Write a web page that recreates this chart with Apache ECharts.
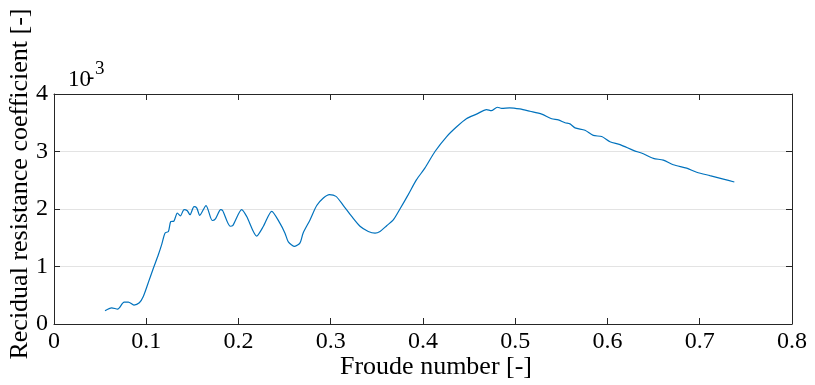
<!DOCTYPE html>
<html>
<head>
<meta charset="utf-8">
<script src="https://cdn.jsdelivr.net/npm/echarts@6/dist/echarts.min.js"></script>
<style>
  html, body { margin: 0; padding: 0; background: #fff; }
  #chart { width: 815px; height: 385px; }
</style>
</head>
<body>
<div id="chart"></div>
<script>
// Froude number samples
const froude = [
  0.0553, 0.0625, 0.069, 0.076, 0.0806, 0.0867, 0.0925, 0.0968, 0.102, 0.1077,
  0.113, 0.1167, 0.1203, 0.124, 0.1265, 0.130, 0.1337, 0.137, 0.141, 0.1445,
  0.1474, 0.1518, 0.1547, 0.158, 0.1648, 0.1716, 0.175, 0.1807, 0.1829, 0.191,
  0.1937, 0.2035, 0.2089, 0.2197, 0.227, 0.236, 0.245, 0.2504, 0.254, 0.261,
  0.2667, 0.270, 0.2775, 0.2848, 0.292, 0.2985, 0.3057, 0.3137, 0.3227, 0.3317,
  0.3407, 0.348, 0.3534, 0.3606, 0.3678, 0.375, 0.384, 0.393, 0.402, 0.413,
  0.4257, 0.4365, 0.447, 0.458, 0.469, 0.474, 0.4806, 0.4853, 0.494, 0.505,
  0.516, 0.5287, 0.5395, 0.5467, 0.554, 0.5593, 0.5648, 0.5756, 0.5846, 0.5937,
  0.6027, 0.6136, 0.628, 0.6388, 0.6497, 0.6605, 0.6713, 0.6858, 0.6967, 0.711,
  0.7256, 0.7375
];
// residual resistance coefficient, in units of 1e-3
const residual = [
  0.23, 0.28, 0.26, 0.38, 0.38, 0.33, 0.37, 0.48, 0.71, 0.97,
  1.20, 1.38, 1.58, 1.61, 1.78, 1.79, 1.93, 1.88, 1.99, 1.97,
  1.90, 2.04, 2.02, 1.89, 2.06, 1.80, 1.83, 1.99, 1.97, 1.70,
  1.71, 1.99, 1.87, 1.53, 1.70, 1.96, 1.75, 1.58, 1.43, 1.35,
  1.41, 1.58, 1.81, 2.06, 2.19, 2.25, 2.22, 2.06, 1.87, 1.70,
  1.61, 1.58, 1.61, 1.71, 1.81, 2.00, 2.25, 2.51, 2.71, 3.00,
  3.26, 3.43, 3.57, 3.65, 3.73, 3.71, 3.77, 3.75, 3.76, 3.74,
  3.70, 3.65, 3.57, 3.55, 3.50, 3.48, 3.41, 3.37, 3.28, 3.26,
  3.17, 3.12, 3.02, 2.96, 2.88, 2.85, 2.77, 2.71, 2.64, 2.58,
  2.52, 2.47
];

const FONT = 'Liberation Serif';
const AXIS_COLOR = '#262626';

const chart = echarts.init(document.getElementById('chart'));

const boxAxis = {
  axisLine: { show: true, onZero: false, lineStyle: { color: AXIS_COLOR, width: 1 } },
  axisTick: { show: true, inside: true, length: 6, lineStyle: { color: AXIS_COLOR } },
  splitLine: { show: false },
  axisLabel: { show: false }
};

chart.setOption({
  animation: false,
  backgroundColor: '#fff',
  grid: { left: 54, right: 23, top: 94, bottom: 61, outerBoundsMode: 'none' },
  xAxis: [
    {
      type: 'value', min: 0, max: 0.8, interval: 0.1, position: 'bottom',
      axisLine: { show: true, onZero: false, lineStyle: { color: AXIS_COLOR, width: 1 } },
      axisTick: { show: true, inside: true, length: 6, lineStyle: { color: AXIS_COLOR } },
      axisLabel: {
        fontFamily: FONT, fontSize: 24, color: '#000', margin: 6,
        formatter: v => String(+v.toFixed(1))
      },
      splitLine: { show: false }
    },
    Object.assign({ type: 'value', min: 0, max: 0.8, interval: 0.1, position: 'top' }, boxAxis)
  ],
  yAxis: [
    {
      type: 'value', min: 0, max: 4, interval: 1, position: 'left',
      axisLine: { show: true, onZero: false, lineStyle: { color: AXIS_COLOR, width: 1 } },
      axisTick: { show: true, inside: true, length: 6, lineStyle: { color: AXIS_COLOR } },
      axisLabel: { fontFamily: FONT, fontSize: 24, color: '#000', margin: 6 },
      splitLine: { show: true, lineStyle: { color: '#e3e3e3', width: 1 } }
    },
    Object.assign({ type: 'value', min: 0, max: 4, interval: 1, position: 'right' }, boxAxis)
  ],
  graphic: [
    // axis titles (placed like the MATLAB original, slightly off the axis centres)
    { type: 'text', x: 436, y: 367,
      style: { text: 'Froude number [-]', fontFamily: FONT, fontSize: 26, fill: '#000', align: 'center', verticalAlign: 'middle' } },
    { type: 'text', x: 20, y: 184, rotation: Math.PI / 2,
      style: { text: 'Recidual resistance coefficient [-]', fontFamily: FONT, fontSize: 26, fill: '#000', align: 'center', verticalAlign: 'middle' } },
    // exponent marker
    { type: 'text', left: 68, top: 68, style: { text: '10', fontFamily: FONT, fontSize: 23, fill: '#000' } },
    { type: 'text', left: 87, top: 66, style: { text: '-', fontFamily: FONT, fontSize: 22, fill: '#000' } },
    { type: 'text', left: 95, top: 60, style: { text: '3', fontFamily: FONT, fontSize: 19, fill: '#000' } }
  ],
  series: [{
    type: 'line',
    data: froude.map((f, i) => [f, residual[i]]),
    showSymbol: false,
    smooth: 0.25,
    lineStyle: { color: '#0072BD', width: 1.2 }
  }]
});
</script>
</body>
</html>
